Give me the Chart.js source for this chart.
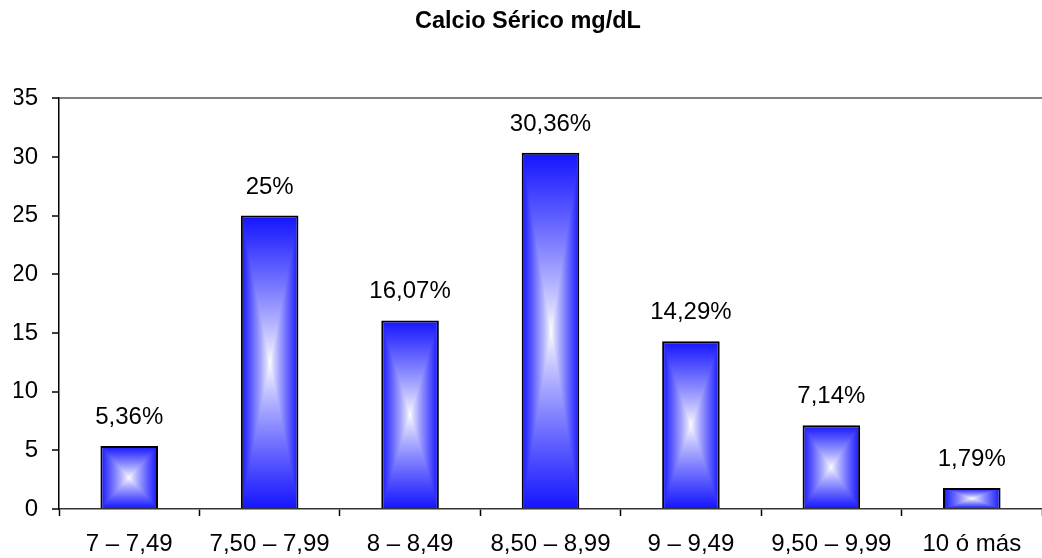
<!DOCTYPE html>
<html>
<head>
<meta charset="utf-8">
<script src="https://cdn.jsdelivr.net/npm/chart.js@4.4.1/dist/chart.umd.min.js"></script>
<style>
    html, body { margin: 0; padding: 0; background: #fff; }
</style>
</head>
<body>
<canvas id="calcioChart" width="1042" height="558"></canvas>
<script>
// Datos del gráfico
const rangos = ['7 – 7,49', '7,50 – 7,99', '8 – 8,49', '8,50 – 8,99', '9 – 9,49', '9,50 – 9,99', '10 ó más'];
const porcentajes = [5.36, 25, 16.07, 30.36, 14.29, 7.14, 1.79];
const etiquetas = ['5,36%', '25%', '16,07%', '30,36%', '14,29%', '7,14%', '1,79%'];
const ejeY = { min: 0, max: 35, paso: 5 };

const FUENTE = 'Liberation Sans, Arial, sans-serif';
const BAR_PCT = 0.41;

// Relleno degradado "desde el centro": azul en los bordes, blanco en el centro
function rellenoBarra(ctx) {
    const chart = ctx.chart;
    const x = chart.scales.x, y = chart.scales.y;
    if (!chart.chartArea || !x || !y || ctx.dataIndex === undefined) return '#2020ff';
    const cx = x.getPixelForValue(ctx.dataIndex);
    const w = Math.round((chart.chartArea.right - chart.chartArea.left) / rangos.length * BAR_PCT);
    const top = Math.round(y.getPixelForValue(porcentajes[ctx.dataIndex]));
    const bottom = Math.round(y.getPixelForValue(0));
    const h = Math.max(1, bottom - top);
    const left = Math.round(cx - w / 2);

    const off = document.createElement('canvas');
    off.width = w; off.height = h;
    const octx = off.getContext('2d');
    const img = octx.createImageData(w, h);
    const hw = w / 2, hh = h / 2;
    for (let j = 0; j < h; j++) {
        for (let i = 0; i < w; i++) {
            const t = Math.min(1, Math.max(Math.abs(i + 0.5 - hw) / hw, Math.abs(j + 0.5 - hh) / hh));
            const k = Math.pow(t, 0.85);
            const p = (j * w + i) * 4;
            img.data[p] = 255 - (255 - 20) * k;
            img.data[p + 1] = 255 - (255 - 20) * k;
            img.data[p + 2] = 255;
            img.data[p + 3] = 255;
        }
    }
    octx.putImageData(img, 0, 0);
    const patron = chart.ctx.createPattern(off, 'no-repeat');
    patron.setTransform(new DOMMatrix().translate(left, top));
    return patron;
}

// Etiquetas de porcentaje sobre cada barra
const etiquetasPlugin = {
    id: 'etiquetas',
    afterDatasetsDraw(chart) {
        const c = chart.ctx;
        c.save();
        c.font = '24px ' + FUENTE;
        c.fillStyle = '#000';
        c.textAlign = 'center';
        c.textBaseline = 'alphabetic';
        chart.getDatasetMeta(0).data.forEach((bar, i) => {
            c.fillText(etiquetas[i], bar.x, bar.y - 22);
        });
        c.restore();
    }
};

new Chart(document.getElementById('calcioChart').getContext('2d'), {
    type: 'bar',
    data: {
        labels: rangos,
        datasets: [{
            data: porcentajes,
            backgroundColor: rellenoBarra,
            borderColor: '#000',
            borderWidth: 2,
            categoryPercentage: 1,
            barPercentage: BAR_PCT
        }]
    },
    options: {
        responsive: false,
        animation: false,
        layout: { padding: { left: 14, right: 0, top: 0, bottom: 0 } },
        plugins: {
            legend: { display: false },
            tooltip: { enabled: false },
            title: {
                display: true,
                text: 'Calcio Sérico mg/dL',
                color: '#000',
                font: { family: FUENTE, size: 23.5, weight: 'bold' },
                padding: { top: 7, bottom: 63 }
            }
        },
        scales: {
            x: {
                afterFit: scale => { scale.height = 49; },
                grid: { offset: true, drawOnChartArea: false, tickLength: 7, tickColor: '#000', tickWidth: 1.5 },
                border: { color: '#333', width: 1.5 },
                ticks: { color: '#000', font: { family: FUENTE, size: 24 }, padding: 14, maxRotation: 0, autoSkip: false }
            },
            y: {
                min: ejeY.min,
                max: ejeY.max,
                afterFit: scale => { scale.width = 45; },
                grid: {
                    color: ctx => (ctx.tick && ctx.tick.value === ejeY.max) ? '#808080' : 'rgba(0,0,0,0)',
                    lineWidth: 2,
                    tickLength: 7,
                    tickColor: '#000',
                    tickWidth: 1.5
                },
                border: { color: '#000', width: 1.5 },
                ticks: { stepSize: ejeY.paso, color: '#000', font: { family: FUENTE, size: 24 }, padding: 14 }
            }
        }
    },
    plugins: [etiquetasPlugin]
});
</script>
</body>
</html>
